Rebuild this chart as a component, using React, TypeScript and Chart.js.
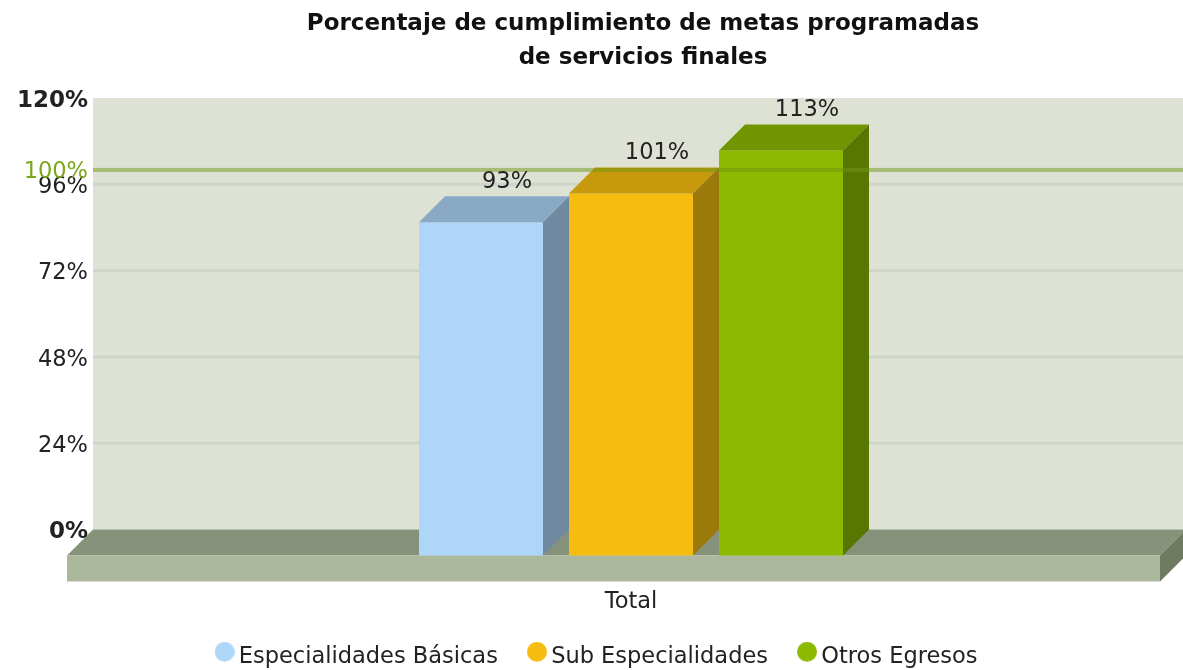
import React, { useEffect, useRef } from "react";
import { Chart, registerables } from "chart.js";

Chart.register(...registerables);

const categories = ["Total"];
const seriesNames = ["Especialidades Básicas", "Sub Especialidades", "Otros Egresos"];
const seriesValues = [[93], [101], [113]];
const tickValues = [0, 24, 48, 72, 96, 120];
const boldTicks = [0, 120];
const targetValue = 100;

const frontColors = ["#aed6f8", "#f7bc10", "#8cba00"];
const topColors = ["#8aa9c5", "#c79a0d", "#709500"];
const sideColors = ["#6f8aa0", "#9b790a", "#597600"];

const FONT = "'DejaVu Sans'";
const TEXT = "#222222";
const DEPTH = 26;

function legendMarker(color: string) {
  const c = document.createElement("canvas");
  c.width = 20;
  c.height = 30;
  const g = c.getContext("2d")!;
  g.fillStyle = color;
  g.beginPath();
  g.arc(10, 10, 10, 0, Math.PI * 2);
  g.fill();
  return c;
}

const decor = {
  id: "decor",
  afterLayout(chart: any) {
    chart.titleBlock.left += 12;
    chart.titleBlock.right += 12;
    const l = chart.legend;
    if (l) {
      l.left += 30;
      l.top -= 13;
      l.bottom -= 13;
    }
  },
  beforeDraw(chart: any) {
    const { ctx, chartArea, scales } = chart;
    const y = scales.y;
    const wallL = chartArea.left;
    const wallR = chart.width;
    const top = y.getPixelForValue(120);
    const zero = y.getPixelForValue(0);
    ctx.save();
    ctx.fillStyle = "#dde2d5";
    ctx.fillRect(wallL, top, wallR - wallL, zero - top);
    ctx.fillStyle = "#cfd5ca";
    for (const v of tickValues) {
      if (v === 0 || v === 120) continue;
      ctx.fillRect(wallL, y.getPixelForValue(v) - 1.5, wallR - wallL, 3);
    }
    const fl = wallL - DEPTH;
    const fr = 1160;
    const floorTop = zero + DEPTH;
    const floorBottom = chartArea.bottom;
    ctx.fillStyle = "#87927a";
    ctx.beginPath();
    ctx.moveTo(fl, floorTop);
    ctx.lineTo(wallL, zero);
    ctx.lineTo(fr + DEPTH, zero);
    ctx.lineTo(fr, floorTop);
    ctx.closePath();
    ctx.fill();
    ctx.fillStyle = "#abb89b";
    ctx.fillRect(fl, floorTop, fr - fl, floorBottom - floorTop);
    ctx.fillStyle = "#6f7a60";
    ctx.beginPath();
    ctx.moveTo(fr, floorTop);
    ctx.lineTo(fr + DEPTH, zero);
    ctx.lineTo(fr + DEPTH, floorTop);
    ctx.lineTo(fr, floorBottom);
    ctx.closePath();
    ctx.fill();
    ctx.restore();
  },
  afterDatasetsDraw(chart: any) {
    const { ctx, chartArea, scales } = chart;
    ctx.save();
    chart.data.datasets.forEach((ds: any, i: number) => {
      const bar = chart.getDatasetMeta(i).data[0];
      const l = bar.x - bar.width / 2;
      const r = bar.x + bar.width / 2;
      const t = bar.y;
      const b = bar.base;
      ctx.fillStyle = topColors[i];
      ctx.beginPath();
      ctx.moveTo(l, t);
      ctx.lineTo(l + DEPTH, t - DEPTH);
      ctx.lineTo(r + DEPTH, t - DEPTH);
      ctx.lineTo(r, t);
      ctx.closePath();
      ctx.fill();
      ctx.fillStyle = sideColors[i];
      ctx.beginPath();
      ctx.moveTo(r, t);
      ctx.lineTo(r + DEPTH, t - DEPTH);
      ctx.lineTo(r + DEPTH, b - DEPTH);
      ctx.lineTo(r, b);
      ctx.closePath();
      ctx.fill();
    });
    const ty = scales.y.getPixelForValue(targetValue);
    ctx.fillStyle = "rgba(112,150,20,0.5)";
    ctx.fillRect(chartArea.left, ty - 2, chart.width - chartArea.left, 4);
    ctx.font = `22.5px ${FONT}`;
    ctx.textBaseline = "middle";
    ctx.textAlign = "right";
    ctx.fillStyle = "#7ba81c";
    ctx.fillText(`${targetValue}%`, chartArea.left - 5, ty + 2);
    ctx.textAlign = "center";
    ctx.fillStyle = TEXT;
    chart.data.datasets.forEach((ds: any, i: number) => {
      const bar = chart.getDatasetMeta(i).data[0];
      ctx.fillText(`${ds.data[0]}%`, bar.x + DEPTH, bar.y - DEPTH - 14);
    });
    ctx.restore();
  },
};

export default function App() {
  const ref = useRef<HTMLCanvasElement>(null);
  useEffect(() => {
    const markers = frontColors.map(legendMarker);
    const chart = new Chart(ref.current!, {
      type: "bar",
      plugins: [decor],
      data: {
        labels: categories,
        datasets: seriesNames.map((name, i) => ({
          label: name,
          data: seriesValues[i],
          yAxisID: "y2",
          backgroundColor: frontColors[i],
          borderWidth: 0,
          barPercentage: 124 / 150,
          categoryPercentage: 450 / 1076,
        })),
      },
      options: {
        responsive: false,
        animation: false,
        layout: { padding: { top: 7, right: 14, bottom: -21, left: 0 } },
        plugins: {
          tooltip: { enabled: false },
          title: {
            display: true,
            fullSize: false,
            text: ["Porcentaje de cumplimiento de metas programadas", "de servicios finales"],
            color: "#111111",
            font: { family: FONT, size: 23, weight: "bold", lineHeight: 34 / 23 },
            padding: { top: 0, bottom: 23 },
          },
          legend: {
            position: "bottom",
            labels: {
              usePointStyle: true,
              boxHeight: 14,
              pointStyleWidth: 6,
              padding: 36,
              color: TEXT,
              font: { family: FONT, size: 22.5 },
              generateLabels(c: any) {
                const items = (Chart.defaults.plugins.legend.labels as any).generateLabels(c);
                return items.map((it: any, i: number) => ({ ...it, pointStyle: markers[i] }));
              },
            },
          },
        },
        scales: {
          x: {
            grid: { display: false, drawTicks: false },
            border: { display: false },
            ticks: { color: TEXT, font: { family: FONT, size: 22.5 }, padding: 7 },
          },
          y: {
            type: "linear",
            min: -14.478,
            max: 120,
            afterBuildTicks(scale: any) {
              scale.ticks = tickValues.map((value) => ({ value }));
            },
            afterFit(scale: any) {
              scale.width = 93;
            },
            grid: { display: false, drawTicks: false },
            border: { display: false },
            ticks: {
              autoSkip: false,
              padding: 5,
              labelOffset: 3,
              color: TEXT,
              callback: (v: any) => `${v}%`,
              font: (c: any) => ({
                family: FONT,
                size: boldTicks.includes(c.tick?.value) ? 23 : 22.5,
                weight: boldTicks.includes(c.tick?.value) ? "bold" : "normal",
              }),
            },
          },
          y2: {
            type: "linear",
            display: false,
            min: -7.26,
            max: 127.65,
          },
        },
      } as any,
    });
    return () => chart.destroy();
  }, []);
  return (
    <canvas
      ref={ref}
      width={1183}
      height={670}
      style={{ position: "absolute", left: 0, top: 0, width: 1183, height: 670 }}
    />
  );
}
